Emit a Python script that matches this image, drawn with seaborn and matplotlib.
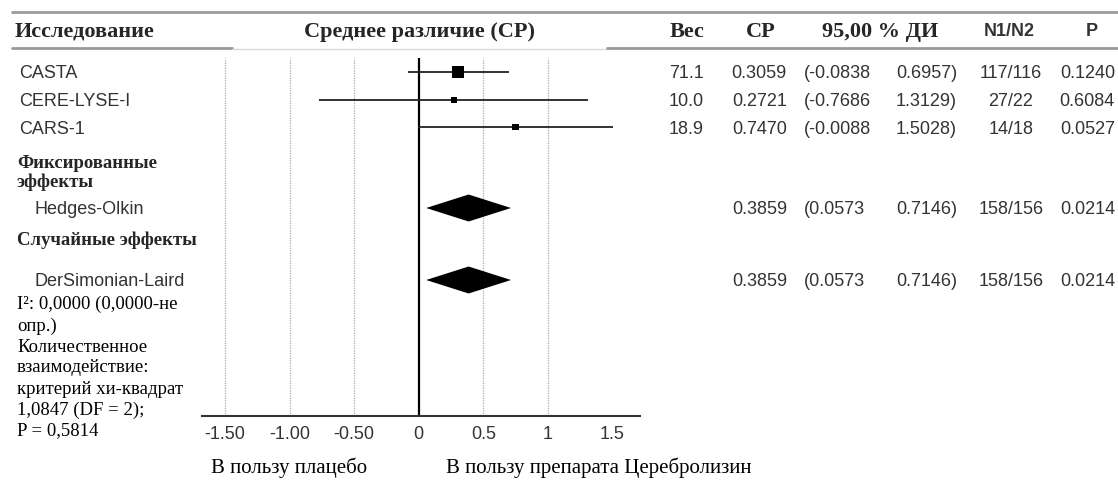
import numpy as np
import pandas as pd
import seaborn as sns
import matplotlib
matplotlib.use("Agg")
import matplotlib.pyplot as plt
from matplotlib.lines import Line2D

# ---------------- data ----------------
studies = ["CASTA", "CERE-LYSE-I", "CARS-1"]
weights = [71.1, 10.0, 18.9]
md = [0.3059, 0.2721, 0.7470]
ci_lo = [-0.0838, -0.7686, -0.0088]
ci_hi = [0.6957, 1.3129, 1.5028]
n_ratio = ["117/116", "27/22", "14/18"]
p_vals = ["0.1240", "0.6084", "0.0527"]

pooled_labels = ["Hedges-Olkin", "DerSimonian-Laird"]
pooled_md = [0.3859, 0.3859]
pooled_lo = [0.0573, 0.0573]
pooled_hi = [0.7146, 0.7146]
pooled_n = ["158/156", "158/156"]
pooled_p = ["0.0214", "0.0214"]

xticks = [-1.5, -1.0, -0.5, 0, 0.5, 1.0, 1.5]
xtick_labels = ["-1.50", "-1.00", "-0.50", "0", "0.5", "1", "1.5"]
grid_x = [-1.5, -1.0, -0.5, 0.5, 1.0]

headers = ["Исследование", "Среднее различие (СР)", "Вес", "СР", "95,00 % ДИ", "N1/N2", "P"]
group_labels = ["Фиксированные\nэффекты", "Случайные эффекты"]
footnote = ["I²: 0,0000 (0,0000-не", "опр.)", "Количественное", "взаимодействие:",
            "критерий хи-квадрат", "1,0847 (DF = 2);", "P = 0,5814"]
favours = ["В пользу плацебо", "В пользу препарата Церебролизин"]

# ---------------- layout ----------------
W, H = 1118, 483
sns.set_theme(style="white")
SANS = ["Liberation Sans", "DejaVu Sans"]
SERIF = ["Liberation Serif", "DejaVu Serif"]
plt.rcParams["font.family"] = SANS
GRAY_TXT = "#333333"
SANS_FS = 13

study_y = [72, 100, 127]
pooled_y = [208, 280]
group_y = [173, 240]
foot_y = [304, 326, 347, 368, 389, 410, 431]
half_h = 13.5

fig = plt.figure(figsize=(W / 100, H / 100), dpi=100)
fig.patch.set_facecolor("white")
ax = fig.add_axes([202 / W, 1 - 416 / H, (640 - 202) / W, (416 - 58) / H])
ax.set_xlim(-1.5 - 23 / 129, 221 / 129)
ax.set_ylim(416, 58)
ax.set_facecolor("white")

def ftext(x, y, s, **kw):
    kw.setdefault("va", "center")
    fig.text(x / W, 1 - y / H, s, **kw)

# gridlines
for gx in grid_x:
    ax.axvline(gx, color="#aaaaaa", lw=0.9, ls=(0, (1, 1)), zorder=0)
ax.axvline(0, color="black", lw=1.6, zorder=1)

# CI lines
ax.hlines(study_y, ci_lo, ci_hi, color="#222222", lw=1.3, zorder=2)

# study squares
df = pd.DataFrame({"md": md, "y": study_y, "w": weights})
sns.scatterplot(data=df, x="md", y="y", size="w",
                sizes={w: w * 1.0 + 6 for w in weights}, marker="s",
                color="black", linewidth=0, legend=False, ax=ax, zorder=3)

# pooled diamonds
for lo, m, hi, y in zip(pooled_lo, pooled_md, pooled_hi, pooled_y):
    ax.fill([lo, m, hi, m], [y, y - half_h, y, y + half_h], color="black", lw=0, zorder=3)

# axes styling
for s in ["top", "right", "left"]:
    ax.spines[s].set_visible(False)
ax.spines["bottom"].set_color("#333333")
ax.spines["bottom"].set_linewidth(1.5)
ax.set_yticks([])
ax.set_xticks(xticks)
ax.set_xticklabels(xtick_labels)
ax.tick_params(axis="x", length=0, pad=7.5, labelsize=SANS_FS, labelcolor=GRAY_TXT)
ax.set_xlabel("")
ax.set_ylabel("")

# header lines
fig.add_artist(Line2D([12 / W, 1], [1 - 12 / H] * 2, color="#9a9a9a", lw=2))
fig.add_artist(Line2D([12 / W, 232 / W], [1 - 48 / H] * 2, color="#9a9a9a", lw=2))
fig.add_artist(Line2D([232 / W, 607 / W], [1 - 49 / H] * 2, color="#d8d8d8", lw=1))
fig.add_artist(Line2D([607 / W, 1], [1 - 48 / H] * 2, color="#9a9a9a", lw=2))

# headers
hy = 32
HFS = 16
ftext(15, hy, headers[0], family=SERIF, weight="bold", fontsize=HFS, ha="left")
ftext(420, hy, headers[1], family=SERIF, weight="bold", fontsize=HFS, ha="center")
ftext(687, hy, headers[2], family=SERIF, weight="bold", fontsize=HFS, ha="center")
ftext(761, hy, headers[3], family=SERIF, weight="bold", fontsize=HFS, ha="center")
ftext(880, hy, headers[4], family=SERIF, weight="bold", fontsize=HFS, ha="center")
ftext(1009, hy, headers[5], family=SANS, weight="bold", fontsize=13, ha="center", color=GRAY_TXT)
ftext(1092, hy, headers[6], family=SANS, weight="bold", fontsize=13, ha="center", color=GRAY_TXT)

def row(y, name, name_x, w, m, lo, hi, n, p):
    kw = dict(family=SANS, fontsize=SANS_FS, color=GRAY_TXT, va="baseline")
    yb = y + 6.5
    ftext(name_x, yb, name, ha="left", **kw)
    if w is not None:
        ftext(704, yb, f"{w:.1f}", ha="right", **kw)
    ftext(787, yb, f"{m:.4f}", ha="right", **kw)
    ftext(804, yb, f"({lo:.4f}", ha="left", **kw)
    ftext(957, yb, f"{hi:.4f})", ha="right", **kw)
    ftext(1011, yb, n, ha="center", **kw)
    ftext(1115, yb, p, ha="right", **kw)

for i in range(len(studies)):
    row(study_y[i], studies[i], 19, weights[i], md[i], ci_lo[i], ci_hi[i], n_ratio[i], p_vals[i])
for i in range(len(pooled_labels)):
    row(pooled_y[i], pooled_labels[i], 34, None, pooled_md[i], pooled_lo[i], pooled_hi[i], pooled_n[i], pooled_p[i])

# group labels
ftext(17, group_y[0], group_labels[0], family=SERIF, weight="bold", fontsize=13.5,
      ha="left", linespacing=1.05)
ftext(17, group_y[1], group_labels[1], family=SERIF, weight="bold", fontsize=13.5, ha="left")

# footnote
for t, y in zip(footnote, foot_y):
    ftext(17, y, t, family=SERIF, fontsize=13.5, ha="left", color="black")

# favours labels
ftext(289, 468, favours[0], family=SERIF, fontsize=15, ha="center", color="black")
ftext(599, 468, favours[1], family=SERIF, fontsize=15, ha="center", color="black")

fig.savefig("out.png", dpi=100, facecolor="white")
